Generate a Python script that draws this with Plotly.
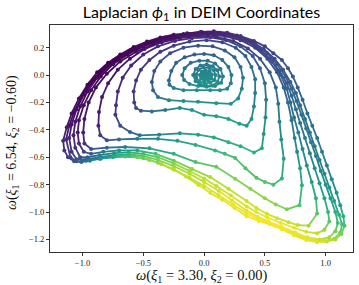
import plotly.graph_objects as go
from plotly.colors import sample_colorscale

# Each loop: list of (x, y, colour value in [0,1])
L00 = [(-0.005,-0.005,0.48),(0.01,0.008,0.47),(0.025,0.005,0.47),(0.03,-0.008,0.48),(0.015,-0.016,0.49),(0.0,-0.014,0.49)]
L01 = [(-0.015,-0.005,0.47),(-0.005,0.01,0.46),(0.015,0.017,0.46),(0.035,0.01,0.47),(0.045,-0.005,0.48),(0.035,-0.02,0.49),(0.015,-0.025,0.49),(-0.005,-0.02,0.48)]
L02 = [(-0.035,0.0,0.46),(-0.02,0.025,0.45),(0.01,0.035,0.45),(0.045,0.03,0.45),(0.065,0.005,0.46),(0.06,-0.025,0.48),(0.035,-0.04,0.49),(0.0,-0.04,0.49),(-0.025,-0.025,0.48)]
L03 = [(-0.065,0.005,0.44),(-0.045,0.04,0.43),(-0.005,0.055,0.43),(0.04,0.055,0.43),(0.08,0.035,0.44),(0.095,0.0,0.46),(0.085,-0.035,0.48),(0.05,-0.055,0.5),(0.005,-0.06,0.5),(-0.04,-0.045,0.49),(-0.065,-0.02,0.46)]
L04 = [(-0.09,0.0,0.42),(-0.07,0.045,0.41),(-0.03,0.07,0.4),(0.02,0.078,0.4),(0.07,0.065,0.41),(0.11,0.035,0.43),(0.125,-0.01,0.45),(0.11,-0.05,0.48),(0.07,-0.075,0.5),(0.02,-0.08,0.5),(-0.03,-0.07,0.49),(-0.07,-0.045,0.47)]
L05 = [(-0.18,0.0,0.38),(-0.16,0.05,0.37),(-0.11,0.09,0.36),(-0.04,0.105,0.36),(0.03,0.105,0.37),(0.09,0.085,0.39),(0.135,0.045,0.41),(0.155,-0.01,0.44),(0.14,-0.055,0.47),(0.09,-0.08,0.49),(0.02,-0.085,0.5),(-0.05,-0.08,0.49),(-0.12,-0.065,0.46),(-0.165,-0.035,0.42)]
L06 = [(-0.29,-0.04,0.33),(-0.27,0.03,0.31),(-0.23,0.09,0.3),(-0.16,0.13,0.29),(-0.08,0.15,0.29),(0.0,0.155,0.3),(0.08,0.145,0.32),(0.15,0.11,0.35),(0.2,0.06,0.38),(0.225,0.0,0.41),(0.22,-0.06,0.44),(0.19,-0.1,0.47),(0.13,-0.11,0.49),(0.05,-0.11,0.5),(-0.06,-0.11,0.49),(-0.17,-0.11,0.47),(-0.25,-0.095,0.42),(-0.285,-0.07,0.37)]
L07 = [(-0.43,-0.05,0.27),(-0.41,0.03,0.25),(-0.36,0.1,0.24),(-0.28,0.16,0.23),(-0.17,0.2,0.23),(-0.05,0.215,0.24),(0.07,0.21,0.26),(0.17,0.18,0.29),(0.25,0.13,0.33),(0.3,0.06,0.37),(0.32,-0.02,0.41),(0.31,-0.1,0.45),(0.28,-0.17,0.48),(0.22,-0.21,0.51),(0.1,-0.205,0.52),(-0.05,-0.195,0.51),(-0.17,-0.19,0.49),(-0.29,-0.183,0.45),(-0.38,-0.16,0.38),(-0.42,-0.11,0.32)]
L08 = [(-0.575,-0.2,0.2),(-0.58,-0.12,0.18),(-0.56,-0.04,0.17),(-0.52,0.04,0.16),(-0.45,0.11,0.16),(-0.36,0.17,0.16),(-0.25,0.215,0.17),(-0.12,0.245,0.18),(0.02,0.255,0.2),(0.15,0.24,0.22),(0.26,0.2,0.26),(0.34,0.14,0.3),(0.39,0.06,0.34),(0.42,-0.03,0.38),(0.42,-0.13,0.42),(0.41,-0.23,0.46),(0.39,-0.32,0.5),(0.35,-0.37,0.54),(0.29,-0.355,0.56),(0.2,-0.32,0.57),(0.1,-0.3,0.57),(0.0,-0.29,0.55),(-0.1,-0.255,0.52),(-0.2,-0.24,0.48),(-0.32,-0.255,0.42),(-0.43,-0.265,0.35),(-0.52,-0.26,0.28),(-0.56,-0.24,0.23)]
L09 = [(-0.725,-0.22,0.14),(-0.71,-0.12,0.12),(-0.67,-0.02,0.11),(-0.6,0.07,0.1),(-0.5,0.15,0.1),(-0.38,0.21,0.11),(-0.24,0.25,0.12),(-0.1,0.27,0.14),(0.05,0.275,0.16),(0.18,0.255,0.19),(0.3,0.21,0.23),(0.4,0.14,0.27),(0.46,0.05,0.31),(0.5,-0.06,0.36),(0.51,-0.18,0.41),(0.505,-0.31,0.47),(0.49,-0.43,0.53),(0.475,-0.535,0.6),(0.41,-0.565,0.63),(0.3,-0.52,0.63),(0.2,-0.49,0.62),(0.08,-0.455,0.6),(-0.05,-0.435,0.57),(-0.2,-0.425,0.52),(-0.37,-0.435,0.45),(-0.53,-0.44,0.37),(-0.61,-0.415,0.3),(-0.69,-0.37,0.22),(-0.73,-0.29,0.17)]
L10 = [(-0.87,-0.37,0.1),(-0.865,-0.27,0.08),(-0.84,-0.16,0.07),(-0.79,-0.06,0.06),(-0.71,0.04,0.05),(-0.61,0.12,0.05),(-0.49,0.19,0.06),(-0.35,0.24,0.07),(-0.2,0.27,0.08),(-0.05,0.285,0.1),(0.1,0.28,0.12),(0.24,0.25,0.16),(0.36,0.195,0.2),(0.46,0.12,0.25),(0.54,0.02,0.29),(0.59,-0.09,0.33),(0.61,-0.21,0.38),(0.62,-0.34,0.43),(0.635,-0.47,0.5),(0.655,-0.61,0.57),(0.64,-0.755,0.64),(0.57,-0.8,0.7),(0.5,-0.78,0.72),(0.43,-0.75,0.72),(0.34,-0.68,0.72),(0.255,-0.605,0.7),(0.17,-0.575,0.68),(0.09,-0.55,0.66),(-0.07,-0.51,0.62),(-0.22,-0.48,0.56),(-0.38,-0.465,0.49),(-0.55,-0.465,0.41),(-0.7,-0.47,0.32),(-0.8,-0.476,0.24),(-0.855,-0.44,0.16)]
L11 = [(-0.995,-0.42,0.08),(-0.985,-0.32,0.06),(-0.95,-0.2,0.05),(-0.89,-0.09,0.04),(-0.8,0.01,0.03),(-0.69,0.1,0.03),(-0.56,0.17,0.03),(-0.42,0.225,0.04),(-0.27,0.265,0.05),(-0.12,0.285,0.07),(0.03,0.295,0.09),(0.17,0.285,0.12),(0.3,0.255,0.15),(0.42,0.2,0.19),(0.52,0.12,0.23),(0.6,0.02,0.27),(0.655,-0.09,0.31),(0.69,-0.2,0.35),(0.72,-0.33,0.39),(0.745,-0.46,0.44),(0.765,-0.56,0.49),(0.79,-0.68,0.56),(0.805,-0.805,0.63),(0.785,-0.95,0.72),(0.68,-0.98,0.8),(0.59,-0.945,0.82),(0.5,-0.9,0.83),(0.38,-0.83,0.82),(0.255,-0.757,0.8),(0.1,-0.67,0.76),(-0.07,-0.635,0.71),(-0.25,-0.575,0.64),(-0.45,-0.535,0.55),(-0.65,-0.525,0.44),(-0.8,-0.53,0.34),(-0.93,-0.54,0.24),(-0.985,-0.5,0.15)]
L12 = [(-1.04,-0.42,0.08),(-1.03,-0.33,0.06),(-0.99,-0.22,0.04),(-0.93,-0.11,0.03),(-0.85,-0.01,0.02),(-0.75,0.08,0.02),(-0.63,0.15,0.02),(-0.5,0.21,0.03),(-0.36,0.255,0.04),(-0.21,0.28,0.06),(-0.06,0.295,0.08),(0.09,0.3,0.1),(0.23,0.285,0.13),(0.36,0.245,0.17),(0.47,0.18,0.21),(0.56,0.1,0.25),(0.63,0.0,0.28),(0.68,-0.1,0.32),(0.71,-0.2,0.35),(0.74,-0.31,0.38),(0.775,-0.42,0.42),(0.81,-0.54,0.46),(0.845,-0.66,0.5),(0.885,-0.78,0.56),(0.92,-0.9,0.64),(0.93,-1.01,0.74),(0.86,-1.1,0.86),(0.77,-1.095,0.9),(0.695,-1.074,0.92),(0.6,-1.045,0.93),(0.516,-1.013,0.93),(0.43,-0.97,0.93),(0.35,-0.92,0.92),(0.2,-0.83,0.9),(0.05,-0.745,0.87),(-0.1,-0.685,0.83),(-0.25,-0.625,0.77),(-0.4,-0.575,0.7),(-0.55,-0.55,0.6),(-0.7,-0.55,0.5),(-0.83,-0.56,0.4),(-0.93,-0.575,0.3),(-0.99,-0.56,0.2),(-1.03,-0.5,0.12)]
L13 = [(-1.075,-0.44,0.09),(-1.06,-0.34,0.06),(-1.02,-0.23,0.04),(-0.96,-0.12,0.03),(-0.88,-0.02,0.02),(-0.78,0.07,0.01),(-0.66,0.145,0.02),(-0.53,0.205,0.02),(-0.39,0.25,0.03),(-0.24,0.28,0.05),(-0.09,0.3,0.07),(0.06,0.305,0.09),(0.2,0.295,0.12),(0.33,0.26,0.16),(0.44,0.2,0.2),(0.54,0.12,0.24),(0.62,0.03,0.27),(0.68,-0.06,0.3),(0.72,-0.15,0.33),(0.755,-0.25,0.36),(0.79,-0.35,0.38),(0.83,-0.46,0.41),(0.87,-0.57,0.44),(0.91,-0.68,0.48),(0.95,-0.79,0.52),(0.99,-0.9,0.58),(1.02,-1.0,0.66),(1.03,-1.07,0.74),(0.99,-1.13,0.83),(0.93,-1.155,0.9),(0.84,-1.145,0.94),(0.74,-1.115,0.96),(0.63,-1.08,0.97),(0.52,-1.04,0.97),(0.43,-1.0,0.96),(0.35,-0.96,0.95),(0.22,-0.88,0.93),(0.1,-0.81,0.91),(0.0,-0.755,0.89),(-0.12,-0.7,0.86),(-0.25,-0.645,0.82),(-0.38,-0.6,0.76),(-0.5,-0.575,0.68),(-0.62,-0.565,0.6),(-0.74,-0.57,0.5),(-0.86,-0.585,0.4),(-0.96,-0.6,0.3),(-1.02,-0.6,0.22),(-1.06,-0.53,0.14)]
L14 = [(-1.11,-0.46,0.1),(-1.09,-0.36,0.06),(-1.05,-0.25,0.04),(-0.99,-0.14,0.02),(-0.91,-0.04,0.01),(-0.82,0.05,0.01),(-0.7,0.13,0.01),(-0.56,0.195,0.02),(-0.42,0.245,0.03),(-0.27,0.28,0.04),(-0.12,0.3,0.06),(0.03,0.31,0.08),(0.17,0.3,0.11),(0.3,0.275,0.15),(0.42,0.225,0.19),(0.52,0.16,0.23),(0.6,0.08,0.26),(0.67,-0.01,0.29),(0.72,-0.1,0.32),(0.76,-0.19,0.35),(0.8,-0.29,0.37),(0.84,-0.39,0.39),(0.88,-0.49,0.41),(0.92,-0.59,0.43),(0.96,-0.7,0.46),(1.0,-0.8,0.5),(1.04,-0.9,0.55),(1.08,-1.0,0.62),(1.1,-1.08,0.7),(1.08,-1.14,0.78),(1.03,-1.185,0.86),(0.95,-1.2,0.92),(0.85,-1.185,0.95),(0.75,-1.15,0.97),(0.64,-1.11,0.98),(0.53,-1.07,0.98),(0.44,-1.035,0.97),(0.35,-0.99,0.96),(0.23,-0.915,0.95),(0.12,-0.845,0.93),(0.0,-0.78,0.91),(-0.12,-0.72,0.88),(-0.25,-0.665,0.84),(-0.38,-0.62,0.79),(-0.5,-0.59,0.73),(-0.62,-0.58,0.65),(-0.74,-0.585,0.55),(-0.86,-0.6,0.44),(-0.97,-0.615,0.33),(-1.05,-0.615,0.24),(-1.09,-0.56,0.16)]
L15 = [(-1.135,-0.47,0.11),(-1.11,-0.37,0.06),(-1.07,-0.27,0.04),(-1.01,-0.16,0.02),(-0.94,-0.06,0.01),(-0.85,0.03,0.0),(-0.74,0.11,0.0),(-0.61,0.18,0.01),(-0.47,0.235,0.02),(-0.32,0.275,0.03),(-0.17,0.3,0.05),(-0.02,0.315,0.07),(0.13,0.31,0.1),(0.27,0.29,0.13),(0.39,0.245,0.17),(0.49,0.19,0.21),(0.58,0.12,0.24),(0.65,0.04,0.27),(0.71,-0.05,0.3),(0.755,-0.13,0.33),(0.79,-0.22,0.35),(0.83,-0.32,0.37),(0.87,-0.42,0.39),(0.91,-0.52,0.41),(0.95,-0.62,0.43),(0.99,-0.72,0.46),(1.03,-0.82,0.5),(1.07,-0.92,0.55),(1.11,-1.02,0.62),(1.135,-1.09,0.7),(1.12,-1.15,0.78),(1.07,-1.195,0.86),(0.99,-1.21,0.92),(0.89,-1.205,0.95),(0.79,-1.18,0.97),(0.69,-1.14,0.98),(0.58,-1.1,0.99),(0.47,-1.06,0.99),(0.35,-1.01,0.98),(0.24,-0.945,0.97),(0.12,-0.875,0.95),(0.0,-0.81,0.93),(-0.12,-0.75,0.9),(-0.25,-0.69,0.87),(-0.38,-0.64,0.82),(-0.5,-0.605,0.76),(-0.62,-0.59,0.68),(-0.74,-0.595,0.58),(-0.86,-0.61,0.47),(-0.97,-0.625,0.36),(-1.05,-0.63,0.27),(-1.1,-0.6,0.19)]
L16 = [(-1.16,-0.48,0.12),(-1.13,-0.38,0.07),(-1.09,-0.28,0.04),(-1.03,-0.17,0.02),(-0.96,-0.07,0.01),(-0.88,0.02,0.0),(-0.79,0.09,0.0),(-0.69,0.15,0.0),(-0.58,0.205,0.01),(-0.47,0.245,0.02),(-0.36,0.275,0.03),(-0.25,0.295,0.04),(-0.14,0.305,0.05),(-0.03,0.315,0.07),(0.08,0.32,0.09),(0.19,0.31,0.11),(0.3,0.285,0.14),(0.41,0.25,0.17),(0.5,0.21,0.2),(0.57,0.16,0.22),(0.64,0.11,0.25),(0.69,0.05,0.27),(0.73,-0.01,0.29),(0.77,-0.09,0.31),(0.81,-0.18,0.33),(0.85,-0.28,0.35),(0.89,-0.37,0.37),(0.93,-0.46,0.39),(0.97,-0.56,0.41),(1.01,-0.66,0.44),(1.05,-0.76,0.47),(1.09,-0.86,0.51),(1.12,-0.95,0.56),(1.145,-1.03,0.63),(1.155,-1.1,0.71),(1.13,-1.16,0.79),(1.08,-1.2,0.86),(1.01,-1.215,0.91),(0.93,-1.22,0.95),(0.84,-1.205,0.97),(0.74,-1.17,0.98),(0.64,-1.125,0.99),(0.54,-1.09,0.99),(0.45,-1.065,0.99),(0.35,-1.03,0.98),(0.25,-0.97,0.97),(0.15,-0.91,0.96),(0.05,-0.86,0.95),(-0.05,-0.8,0.93),(-0.15,-0.74,0.91),(-0.25,-0.69,0.89),(-0.35,-0.65,0.86),(-0.45,-0.62,0.82),(-0.55,-0.6,0.77),(-0.65,-0.595,0.7),(-0.75,-0.6,0.61),(-0.85,-0.61,0.5),(-0.94,-0.625,0.4),(-1.01,-0.635,0.32),(-1.07,-0.63,0.25),(-1.12,-0.6,0.19),(-1.15,-0.55,0.15)]

LOOPS = [L00, L01, L02, L03, L04, L05, L06, L07, L08, L09, L10, L11, L12, L13, L14, L15, L16]

X_TICKS = [-1.0, -0.5, 0.0, 0.5, 1.0]
Y_TICKS = [0.2, 0.0, -0.2, -0.4, -0.6, -0.8, -1.0, -1.2]

TITLE = "Laplacian <i>ϕ</i><sub>1</sub> in DEIM Coordinates"
XLABEL = "<i>ω</i>(<i>ξ</i><sub>1</sub> = 3.30, <i>ξ</i><sub>2</sub> = 0.00)"
YLABEL = "<i>ω</i>(<i>ξ</i><sub>1</sub> = 6.54, <i>ξ</i><sub>2</sub> = −0.60)"

fig = go.Figure()

NB = 48
seg_x = [[] for _ in range(NB)]
seg_y = [[] for _ in range(NB)]
for lp in LOOPS:
    n = len(lp)
    for i in range(n):
        a = lp[i]
        b = lp[(i + 1) % n]
        c = (a[2] + b[2]) / 2
        k = min(NB - 1, max(0, int(c * NB)))
        seg_x[k] += [a[0], b[0], None]
        seg_y[k] += [a[1], b[1], None]
for k in range(NB):
    if seg_x[k]:
        col = sample_colorscale("Viridis", [(k + 0.5) / NB])[0]
        fig.add_trace(go.Scatter(x=seg_x[k], y=seg_y[k], mode="lines",
                                 line=dict(color=col, width=1.8),
                                 hoverinfo="skip", showlegend=False))

for lp in LOOPS:
    fig.add_trace(go.Scatter(x=[p[0] for p in lp], y=[p[1] for p in lp], mode="markers",
                             marker=dict(color=[p[2] for p in lp], colorscale="Viridis",
                                         cmin=0, cmax=1, size=4, line=dict(width=0)),
                             hoverinfo="skip", showlegend=False))

axis_common = dict(showline=True, linecolor="#333", linewidth=1, mirror=True,
                   ticks="outside", ticklen=3, tickwidth=0.8, tickcolor="#333",
                   showgrid=False, zeroline=False, tickformat=".1f", automargin=False,
                   tickfont=dict(family="Liberation Serif", size=8.5, color="#222"))

fig.update_layout(
    width=359, height=285,
    margin=dict(l=50, r=6, t=25, b=33, pad=0, autoexpand=False),
    plot_bgcolor="white", paper_bgcolor="white",
    title=dict(text=TITLE, x=0.5, xref="paper", y=1 - 12 / 285, yanchor="middle",
               automargin=False,
               font=dict(family="Lato", size=16, color="#000")),
    xaxis=dict(range=[-1.268, 1.225], tickvals=X_TICKS, **axis_common),
    yaxis=dict(range=[-1.292, 0.366], tickvals=Y_TICKS, **axis_common),
    annotations=[
        dict(text=XLABEL, xref="paper", yref="paper", x=0.5, y=-24 / 227,
             xanchor="center", yanchor="middle", showarrow=False,
             font=dict(family="Liberation Serif", size=14.5, color="#111")),
        dict(text=YLABEL, xref="paper", yref="paper", x=-38 / 303, y=109 / 227,
             xanchor="center", yanchor="middle", showarrow=False, textangle=-90,
             font=dict(family="Liberation Serif", size=14, color="#111")),
    ],
)

fig.write_html("out.html", config={"displayModeBar": False},
               post_script="document.body.style.margin='0';")
